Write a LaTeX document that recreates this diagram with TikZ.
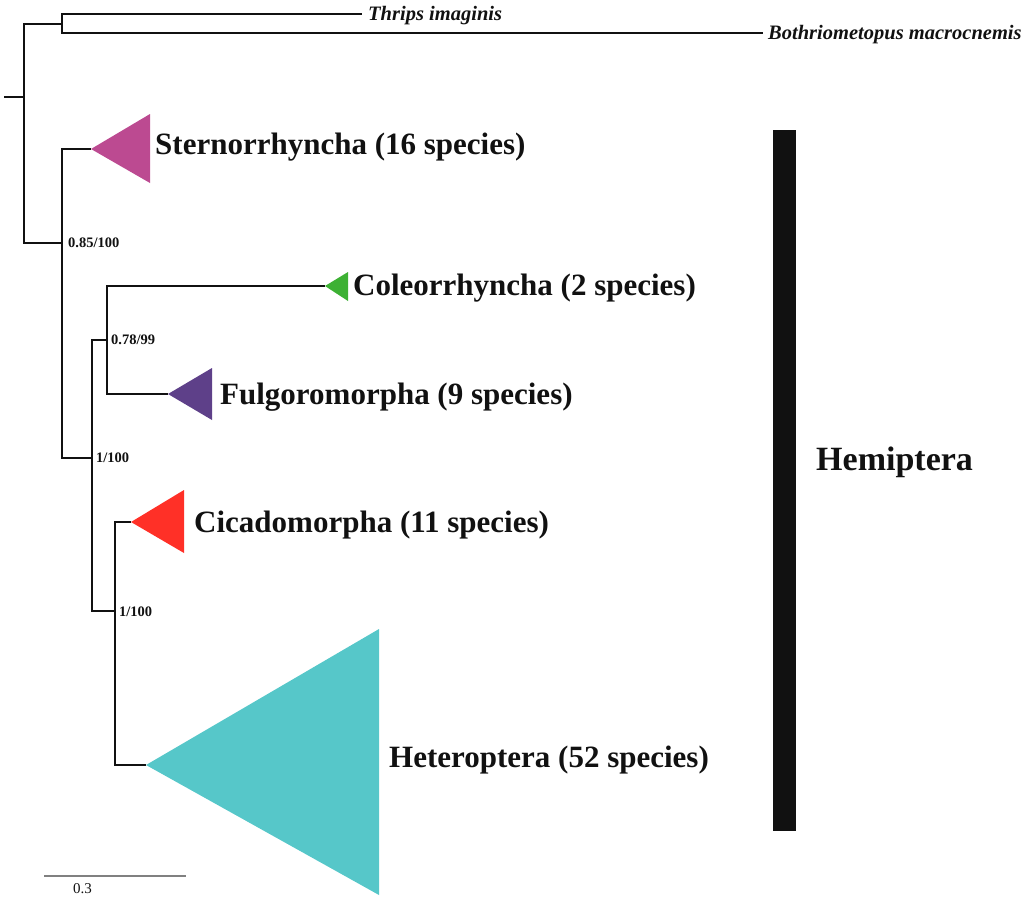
\documentclass[tikz,border=0pt]{standalone}
\usepackage{fontspec}
\setmainfont{Liberation Serif}
\definecolor{txt}{HTML}{111111}
\definecolor{cSter}{HTML}{BC4A91}
\definecolor{cCole}{HTML}{3DB134}
\definecolor{cFulg}{HTML}{5E4089}
\definecolor{cCica}{HTML}{FF3027}
\definecolor{cHete}{HTML}{56C7C9}
\definecolor{cScale}{HTML}{808080}
\tikzset{
  branch/.style={draw=txt, line width=2pt},
  clade/.style={anchor=base west, inner sep=0pt, text=txt, font=\fontsize{31}{31}\selectfont\bfseries},
  taxon/.style={anchor=base west, inner sep=0pt, text=txt, font=\fontsize{20.5}{20.5}\selectfont\bfseries\itshape},
  support/.style={anchor=base west, inner sep=0pt, text=txt, font=\fontsize{14.5}{14.5}\selectfont\bfseries},
}
\begin{document}
\begin{tikzpicture}[x=1pt,y=-1pt]
\useasboundingbox (0,0) rectangle (1024,900);
% internal nodes
\coordinate (stub) at (4,97);
\coordinate (root) at (24,97);
\coordinate (out) at (62,24);
\coordinate (hemi) at (62,243);
\coordinate (n1) at (92,458);
\coordinate (n078) at (107,340);
\coordinate (n2) at (115,611);
% tips
\coordinate (thr) at (362,14);
\coordinate (bot) at (763,33);
\coordinate (ster) at (91,149);
\coordinate (cole) at (325,286);
\coordinate (fulg) at (168,394);
\coordinate (cica) at (131,522);
\coordinate (hete) at (146,765);
% collapsed clades
\fill[cSter] (ster) -- (150,114) -- (150,183) -- cycle;
\fill[cCole] (cole) -- (348,272) -- (348,301) -- cycle;
\fill[cFulg] (fulg) -- (212,368) -- (212,420) -- cycle;
\fill[cCica] (cica) -- (184,490) -- (184,553) -- cycle;
\fill[cHete] (hete) -- (379,629) -- (379,895) -- cycle;
% branches
\draw[branch] (stub) -- (root);
\draw[branch] (root) |- (out);
\draw[branch] (root) |- (hemi);
\draw[branch] (out) |- (thr);
\draw[branch] (out) |- (bot);
\draw[branch] (hemi) |- (ster);
\draw[branch] (hemi) |- (n1);
\draw[branch] (n1) |- (n078);
\draw[branch] (n1) |- (n2);
\draw[branch] (n078) |- (cole);
\draw[branch] (n078) |- (fulg);
\draw[branch] (n2) |- (cica);
\draw[branch] (n2) |- (hete);
% taxon labels
\node[taxon] (lthr) at (368,20) {Thrips imaginis};
\node[taxon] (lbot) at (768,39) {Bothriometopus macrocnemis};
\node[clade] (lster) at (155,154) {Sternorrhyncha (16 species)};
\node[clade] (lcole) at (353,295) {Coleorrhyncha (2 species)};
\node[clade] (lfulg) at (220,404) {Fulgoromorpha (9 species)};
\node[clade] (lcica) at (194,532) {Cicadomorpha (11 species)};
\node[clade] (lhete) at (389,767) {Heteroptera (52 species)};
% support values
\node[support] (s1) at (68,247) {0.85/100};
\node[support] (s2) at (111,344) {0.78/99};
\node[support] (s3) at (96,462) {1/100};
\node[support] (s4) at (119,616) {1/100};
% Hemiptera bar
\fill[txt] (773,130) rectangle (796,831);
\node[clade, font=\fontsize{34}{34}\selectfont\bfseries] (lhemi) at (816,470) {Hemiptera};
% scale bar
\coordinate (sb1) at (44,876);
\coordinate (sb2) at (186,876);
\draw[draw=cScale, line width=1.6pt] (sb1) -- (sb2);
\node[anchor=base west, inner sep=0pt, text=txt, font=\fontsize{15}{15}\selectfont] (lsb) at (73,893) {0.3};
\end{tikzpicture}
\end{document}
